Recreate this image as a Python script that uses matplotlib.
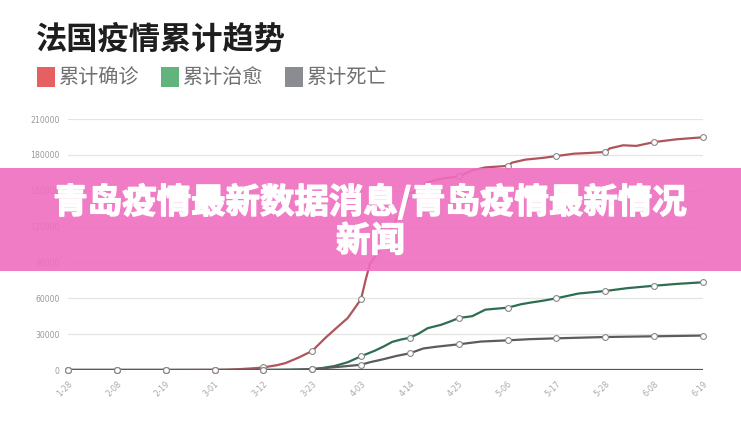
import matplotlib
matplotlib.use("Agg")
import matplotlib.pyplot as plt
from matplotlib.patches import Rectangle
import matplotlib.patheffects as pe
import pandas as pd

plt.rcParams['font.family'] = ['Noto Sans CJK SC', 'DejaVu Sans']

title = "法国疫情累计趋势"
series_names = ["累计确诊", "累计治愈", "累计死亡"]
banner_line1 = "青岛疫情最新数据消息/青岛疫情最新情况"
banner_line2 = "新闻"

tick_dates = ["01-28", "02-08", "02-19", "03-01", "03-12", "03-23", "04-03",
              "04-14", "04-25", "05-06", "05-17", "05-28", "06-08", "06-19"]
tick_labels = ["1-28", "2-08", "2-19", "3-01", "3-12", "3-23", "4-03",
               "4-14", "4-25", "5-06", "5-17", "5-28", "6-08", "6-19"]
y_ticks = [0, 30000, 60000, 90000, 120000, 150000, 180000, 210000]

confirmed_dates = ["01-28", "02-08", "02-19", "03-01", "03-04", "03-07", "03-10", "03-12",
                   "03-15", "03-17", "03-20", "03-23", "03-26", "03-29", "03-31", "04-02",
                   "04-03", "04-04", "04-05", "04-07", "04-09", "04-11", "04-13", "04-14",
                   "04-16", "04-18", "04-21", "04-25", "04-28", "05-01", "05-05", "05-06",
                   "05-07", "05-10", "05-14", "05-17", "05-21", "05-24", "05-28", "05-29",
                   "06-01", "06-04", "06-08", "06-13", "06-19"]
confirmed_values = [0, 0, 0, 100, 300, 800, 1500, 2200,
                    4000, 5800, 10500, 16000, 27000, 37000, 43500, 54000,
                    59400, 75000, 89000, 99000, 113000, 126000, 139000, 146000,
                    153000, 157000, 160000, 162000, 167000, 169500, 170500, 171000,
                    173500, 176000, 177500, 179000, 181000, 181500, 182400, 185400,
                    188000, 187500, 190700, 193000, 194700]

recovered_dates = ["01-28", "02-08", "02-19", "03-01", "03-12", "03-16", "03-20", "03-23",
                   "03-25", "03-28", "03-31", "04-03", "04-06", "04-08", "04-10", "04-12",
                   "04-14", "04-16", "04-18", "04-21", "04-23", "04-25", "04-28", "05-01",
                   "05-04", "05-06", "05-09", "05-11", "05-14", "05-17", "05-22", "05-28",
                   "06-02", "06-08", "06-13", "06-19"]
recovered_values = [0, 0, 0, 0, 10, 100, 300, 700,
                    1500, 3300, 6500, 11500, 16000, 19500, 23500, 25500,
                    27000, 30500, 35000, 37800, 40500, 43500, 45000, 50500,
                    51500, 52100, 55000, 56300, 58000, 60000, 64000, 66100,
                    68500, 70500, 72000, 73400]

deaths_dates = ["01-28", "02-08", "02-19", "03-01", "03-12", "03-15", "03-18", "03-20",
                "03-23", "03-27", "03-30", "04-03", "04-05", "04-08", "04-11", "04-14",
                "04-17", "04-20", "04-25", "04-30", "05-06", "05-11", "05-17", "05-28",
                "06-08", "06-19"]
deaths_values = [0, 0, 0, 0, 50, 100, 200, 400,
                 700, 2000, 3000, 4400, 6500, 9000, 11800, 14000,
                 18000, 19500, 21500, 23800, 24800, 25800, 26500, 27600,
                 28200, 28800]

line_colors = ["#b0545c", "#2e6e50", "#5c5c5e"]
legend_colors = ["#e66062", "#62b37e", "#8b8b92"]

def to_dt(lst):
    return pd.to_datetime(["2020-" + d for d in lst])

W, H = 741, 440
fig = plt.figure(figsize=(W / 100, H / 100), dpi=100)
x0, x1, ytop, ybot = 68, 703, 119, 370
ax = fig.add_axes([x0 / W, (H - ybot) / H, (x1 - x0) / W, (ybot - ytop) / H])

tick_dt = to_dt(tick_dates)
ax.set_xlim(tick_dt[0], tick_dt[-1])
ax.set_ylim(0, 210000)

for yv in y_ticks[1:]:
    ax.axhline(yv, color="#e4e4e4", lw=0.9, zorder=1)
ax.axhline(0, color="#555555", lw=1.6, zorder=2)

all_series = [(confirmed_dates, confirmed_values),
              (recovered_dates, recovered_values),
              (deaths_dates, deaths_values)]
for (ds, vs), c in zip(all_series, line_colors):
    dt = to_dt(ds)
    ax.plot(dt, vs, color=c, lw=1.6, zorder=3, solid_capstyle='round', solid_joinstyle='round')
    mk = [(d, v) for d, v, s in zip(dt, vs, ds) if s in tick_dates]
    ax.plot([m[0] for m in mk], [m[1] for m in mk], ls='none', marker='o', ms=4.2,
            mfc='white', mec='#888888', mew=0.8, zorder=4, clip_on=False)

for s in ax.spines.values():
    s.set_visible(False)
ax.set_yticks(y_ticks)
ax.set_yticklabels([str(v) for v in y_ticks], fontsize=5.6, color="#999999",
                   family=['DejaVu Sans'])
ax.set_xticks(tick_dt)
ax.set_xticklabels(tick_labels, fontsize=5.8, color="#aaaaaa", rotation=45,
                   ha='right', va='top', rotation_mode='anchor', family=['DejaVu Sans'])
ax.tick_params(axis='both', length=0)
ax.tick_params(axis='y', pad=6)
ax.tick_params(axis='x', pad=7)

# title
fig.text(36 / W, 1 - 40 / H, title, fontsize=22.5, fontweight='bold', color="#1e1e1e",
         ha='left', va='center')

# legend
leg_sq_x = [37, 161, 285]
for lx, name, c in zip(leg_sq_x, series_names, legend_colors):
    fig.add_artist(Rectangle((lx / W, 1 - 87 / H), 18 / W, 20 / H, transform=fig.transFigure,
                             facecolor=c, edgecolor='none'))
    fig.text((lx + 22) / W, 1 - 77 / H, name, fontsize=14.5, color="#707070",
             ha='left', va='center')

# banner overlay
fig.add_artist(Rectangle((0, 1 - 271 / H), 1, 103 / H, transform=fig.transFigure,
                         facecolor="#ef6ec0", edgecolor='none', alpha=0.9, zorder=10))
stroke = [pe.withStroke(linewidth=1.0, foreground='white')]
fig.text(0.5, 1 - 202 / H, banner_line1, fontsize=24.8, fontweight='heavy', color='white',
         ha='center', va='center', zorder=11, path_effects=stroke)
fig.text(0.5, 1 - 241 / H, banner_line2, fontsize=24.8, fontweight='heavy', color='white',
         ha='center', va='center', zorder=11, path_effects=stroke)

fig.savefig("out.png", dpi=100)
